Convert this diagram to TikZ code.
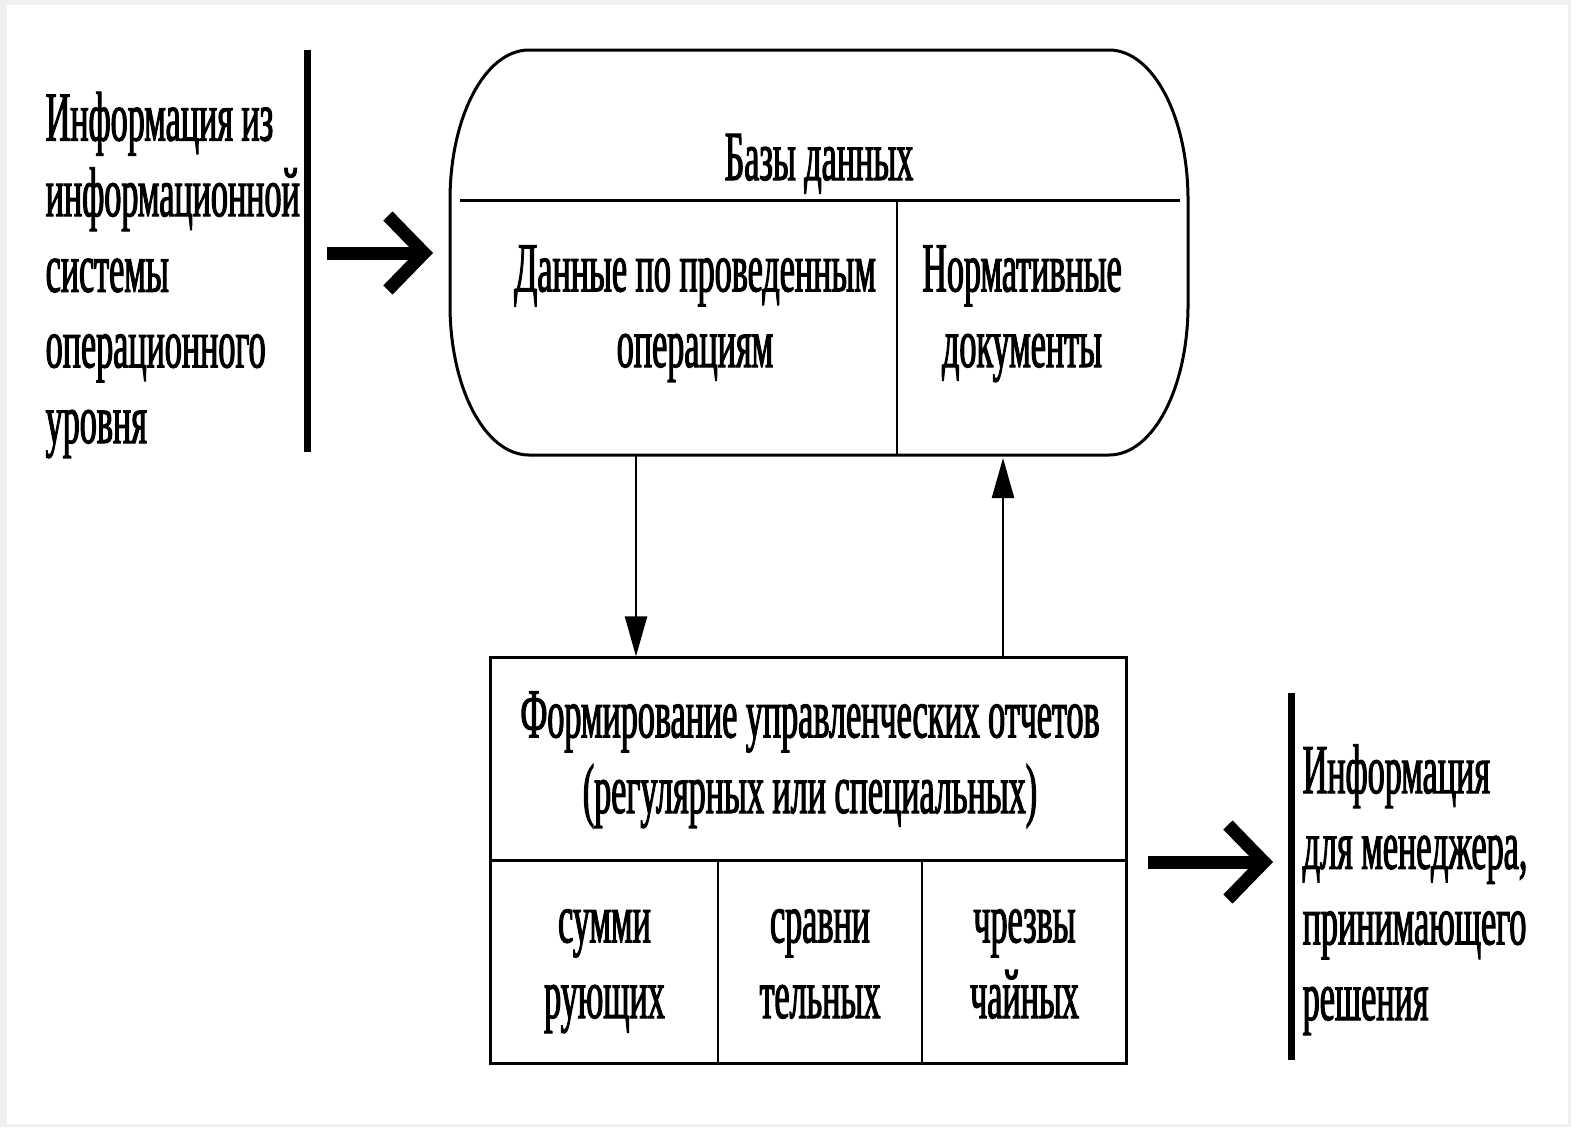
\documentclass[tikz,border=0pt]{standalone}
\usepackage{fontspec}
\newfontfamily\diafont[FakeStretch=0.485, FakeBold=1.5]{Liberation Serif}
\usetikzlibrary{arrows.meta}

\begin{document}
\begin{tikzpicture}[x=0.01cm, y=-0.01cm,
    txt/.style={font=\diafont\fontsize{20pt}{21.5pt}\selectfont, inner sep=0pt, anchor=base},
    boxline/.style={line width=0.03cm},
    bar/.style={line width=0.07cm},
    fatarrow/.style={line width=0.13cm, -{Straight Barb[length=0.36cm, width=0.74cm]}},
    thinarrow/.style={line width=0.025cm, -{Triangle[length=0.4cm, width=0.22cm]}}]

    % background and frame
    \fill[gray!12] (0,0) rectangle (1571,1127);
    \fill[white] (7,5) rectangle (1568,1124);
    \useasboundingbox (0,0) rectangle (1571,1127);

    % database
    \draw[boxline] (529,50) -- (1109,50)
        .. controls (1153,50) and (1188,117) .. (1188,200) -- (1188,305)
        .. controls (1188,388) and (1153,455) .. (1109,455) -- (529,455)
        .. controls (485,455) and (450,388) .. (450,305) -- (450,200)
        .. controls (450,117) and (485,50) .. (529,50) -- cycle;
    \draw[boxline] (460,200) -- (1180,200);
    \draw[line width=0.02cm] (897,200) -- (897,455);
    \node[txt] (dbtitle) at (819,180) {Базы данных};
    \node[txt, align=center] (ops) at (695,367) {Данные по проведенным\\операциям};
    \node[txt, align=center] (norm) at (1022,367) {Нормативные\\документы};

    % reports
    \node[draw, boxline, minimum width=6.35cm, minimum height=4.05cm, inner sep=0pt] (rep) at (808.5,860.5) {};
    \draw[boxline] (rep.west |- 0,860) -- (rep.east |- 0,860);
    \draw[line width=0.025cm] (718,860) -- (rep.south -| 718,0);
    \draw[line width=0.025cm] (922,860) -- (rep.south -| 922,0);
    \node[txt, align=center] (title) at (810,813) {Формирование управленческих отчетов\\(регулярных или специальных)};
    \node[txt, align=center] (sum) at (604.5,1018) {сумми\\рующих};
    \node[txt, align=center] (cmp) at (820,1018) {сравни\\тельных};
    \node[txt, align=center] (exc) at (1024.5,1018) {чрезвы\\чайных};

    % arrows between blocks
    \coordinate (dbout) at (636,455);
    \coordinate (dbin) at (1003,458);
    \draw[thinarrow] (dbout) -- (dbout |- rep.north);
    \draw[thinarrow] (rep.north -| dbin) -- (dbin);

    % input
    \node[txt, anchor=base west, align=left] (src) at (45,443) {Информация из\\информационной\\системы\\операционного\\уровня};
    \draw[bar] (307,50) -- (307,452);
    \coordinate (inS) at (327,253);
    \coordinate (inE) at (433,253);
    \draw[fatarrow] (inS) -- (inE);

    % output
    \coordinate (outS) at (1148,862);
    \coordinate (outE) at (1273,862);
    \draw[fatarrow] (outS) -- (outE);
    \draw[bar] (1291,693) -- (1291,1060);
    \node[txt, anchor=base west, align=left] (dst) at (1302,1020) {Информация\\для менеджера,\\принимающего\\решения};
\end{tikzpicture}
\end{document}
